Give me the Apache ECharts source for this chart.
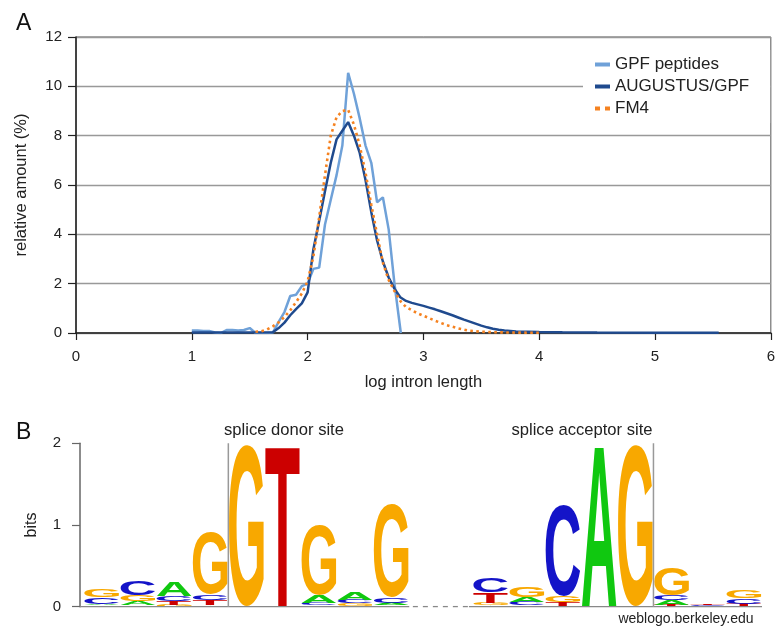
<!DOCTYPE html>
<html>
<head>
<meta charset="utf-8">
<script src="https://cdn.jsdelivr.net/npm/echarts@6/dist/echarts.min.js"></script>
<style>
html, body { margin: 0; padding: 0; background: #fff; }
#chart { width: 778px; height: 629px; }
</style>
</head>
<body>
<div id="chart"></div>
<script>
// ---- panel A: intron length distribution (x = log intron length, y = %) ----
const gpfX = [1.0, 1.05, 1.1, 1.15, 1.2, 1.25, 1.3, 1.35, 1.4, 1.45, 1.5, 1.55, 1.6, 1.65, 1.7, 1.75, 1.8, 1.85, 1.9, 1.95,
  2.0, 2.05, 2.1, 2.15, 2.2, 2.25, 2.3, 2.35, 2.4, 2.45, 2.5, 2.55, 2.6, 2.65, 2.7, 2.75, 2.805];
const gpfY = [0.1, 0.1, 0.08, 0.08, 0.02, 0.0, 0.12, 0.12, 0.1, 0.12, 0.2, 0.0, 0.0, 0.0, 0.02, 0.45, 0.85, 1.5, 1.55, 1.9,
  2.0, 2.6, 2.65, 4.4, 5.4, 6.4, 7.6, 10.55, 9.7, 8.7, 7.6, 6.9, 5.3, 5.5, 4.2, 2.0, 0.0];

const augX = [1.0, 1.7, 1.75, 1.8, 1.85, 1.9, 1.95, 2.0, 2.05, 2.1, 2.15, 2.2, 2.25, 2.3, 2.35, 2.4, 2.45, 2.5, 2.55, 2.6,
  2.65, 2.7, 2.75, 2.8, 2.85, 2.9, 2.95, 3.0, 3.05, 3.1, 3.15, 3.2, 3.25, 3.3, 3.35, 3.4, 3.45, 3.5, 3.55, 3.6,
  3.65, 3.7, 3.8, 3.9, 4.0, 4.2, 4.5, 5.0, 5.55];
const augY = [0.02, 0.03, 0.2, 0.42, 0.72, 0.97, 1.2, 1.65, 3.4, 4.55, 5.75, 6.9, 7.85, 8.2, 8.55, 8.0, 7.3, 6.2, 4.9, 3.75,
  2.9, 2.25, 1.8, 1.45, 1.3, 1.22, 1.16, 1.1, 1.03, 0.96, 0.88, 0.8, 0.72, 0.63, 0.54, 0.46, 0.38, 0.3, 0.23, 0.17,
  0.13, 0.1, 0.06, 0.05, 0.04, 0.03, 0.02, 0.015, 0.01];

const fm4X = [1.55, 1.6, 1.65, 1.7, 1.75, 1.8, 1.85, 1.9, 1.95, 2.0, 2.05, 2.1, 2.15, 2.2, 2.25, 2.3, 2.35, 2.4, 2.45, 2.5,
  2.55, 2.6, 2.65, 2.7, 2.75, 2.8, 2.85, 2.9, 2.95, 3.0, 3.1, 3.2, 3.3, 3.4, 3.5, 3.6, 3.8, 4.0];
const fm4Y = [0.05, 0.07, 0.14, 0.27, 0.43, 0.65, 0.92, 1.25, 1.6, 2.1, 3.1, 4.7, 6.4, 8.0, 8.75, 9.0, 9.05, 8.45, 7.6, 6.5,
  5.2, 4.0, 2.85, 2.15, 1.7, 1.3, 1.05, 0.92, 0.8, 0.7, 0.5, 0.32, 0.19, 0.09, 0.05, 0.03, 0.015, 0.01];

// ---- panel B: sequence logo, letters listed bottom -> top, height in bits ----
const donorSlots = [0, 1, 2, 3, 4, 5, 6, 7, 8];
const donorLogo = [
  [['T', 0.015], ['A', 0.02], ['C', 0.085], ['G', 0.095]],
  [['T', 0.015], ['A', 0.05], ['G', 0.08], ['C', 0.17]],
  [['G', 0.025], ['T', 0.045], ['C', 0.06], ['A', 0.175]],
  [['A', 0.02], ['T', 0.065], ['C', 0.07], ['G', 0.76]],
  [['G', 1.975]],
  [['T', 1.975]],
  [['T', 0.015], ['C', 0.035], ['A', 0.09], ['G', 0.86]],
  [['T', 0.01], ['G', 0.035], ['C', 0.04], ['A', 0.09]],
  [['T', 0.015], ['A', 0.03], ['C', 0.065], ['G', 1.15]]
];
const acceptorSlots = [10.75, 11.75, 12.75, 13.75, 14.75, 15.75, 16.75, 17.75];
const acceptorLogo = [
  [['A', 0.015], ['G', 0.035], ['T', 0.13], ['C', 0.18]],
  [['T', 0.015], ['C', 0.045], ['A', 0.06], ['G', 0.12]],
  [['A', 0.01], ['T', 0.045], ['G', 0.075], ['C', 1.11]],
  [['A', 1.975]],
  [['G', 1.975]],
  [['T', 0.025], ['A', 0.055], ['C', 0.06], ['G', 0.33]],
  [['G', 0.008], ['C', 0.015], ['T', 0.02]],
  [['A', 0.01], ['T', 0.025], ['C', 0.065], ['G', 0.1]]
];
const donorSplit = 3.5;
const acceptorSplit = 15.25;
const bitTicks = [0, 1, 2];

const letterColor = { A: '#10c810', C: '#1414c8', G: '#f8a800', T: '#cc0000' };
const FONT = '"Liberation Sans", Arial, sans-serif';
const LOGO_FONT = 'bold 100px "Liberation Sans", Arial, sans-serif';

// measure ink box of each glyph so it can be stretched to its bit height
const glyphBox = {};
const mctx = document.createElement('canvas').getContext('2d');
mctx.font = LOGO_FONT;
mctx.textAlign = 'center';
mctx.textBaseline = 'middle';
['A', 'C', 'G', 'T'].forEach(function (ch) {
  const m = mctx.measureText(ch);
  glyphBox[ch] = {
    left: m.actualBoundingBoxLeft,
    asc: m.actualBoundingBoxAscent,
    w: m.actualBoundingBoxLeft + m.actualBoundingBoxRight,
    h: m.actualBoundingBoxAscent + m.actualBoundingBoxDescent
  };
});

function zip(xs, ys) {
  return xs.map(function (x, i) { return [x, ys[i]]; });
}

function logoRenderer(stacks) {
  return function (params, api) {
    const slot = api.value(0);
    const col = stacks[api.value(2)];
    const children = [];
    let base = 0;
    col.forEach(function (item) {
      const letter = item[0], bits = item[1];
      const p0 = api.coord([slot - 0.48, base + bits]);
      const p1 = api.coord([slot + 0.48, base]);
      base += bits;
      const bw = p1[0] - p0[0];
      const bh = p1[1] - p0[1];
      if (bh < 0.3) return;
      const g = glyphBox[letter];
      const sx = bw / g.w, sy = bh / g.h;
      children.push({
        type: 'text',
        x: p0[0] + g.left * sx,
        y: p0[1] + g.asc * sy,
        scaleX: sx,
        scaleY: sy,
        style: {
          text: letter, font: LOGO_FONT, fill: letterColor[letter],
          align: 'center', verticalAlign: 'middle',
          textAlign: 'center', textVerticalAlign: 'middle'
        }
      });
    });
    return { type: 'group', children: children };
  };
}

const chart = echarts.init(document.getElementById('chart'), null, { renderer: 'canvas' });

const option = {
  backgroundColor: '#fff',
  animation: false,
  textStyle: { fontFamily: FONT },
  grid: [
    { left: 76, right: 3, top: 37, bottom: 296, show: true, borderColor: '#555', borderWidth: 1, backgroundColor: 'transparent' },
    { left: 80, right: 16, top: 443.3, bottom: 22.3 }
  ],
  legend: {
    orient: 'vertical',
    left: 583,
    top: 50,
    padding: [6, 21, 6, 12],
    backgroundColor: '#fff',
    itemWidth: 15,
    itemHeight: 4,
    itemGap: 5,
    itemStyle: { borderWidth: 0 },
    textStyle: { fontSize: 17, color: '#222', fontFamily: FONT, lineHeight: 17 },
    data: [
      { name: 'GPF peptides', icon: 'rect' },
      { name: 'AUGUSTUS/GPF', icon: 'rect' },
      { name: 'FM4', icon: 'path://M0,0h5v4h-5zM10,0h5v4h-5z' }
    ]
  },
  xAxis: [
    {
      gridIndex: 0, type: 'value', min: 0, max: 6, interval: 1,
      name: 'log intron length', nameLocation: 'middle', nameGap: 41,
      nameTextStyle: { fontSize: 16.5, color: '#222', fontFamily: FONT },
      axisLine: { onZero: false, lineStyle: { color: '#222', width: 1.5 } },
      axisTick: { show: true, length: 7, lineStyle: { color: '#222', width: 1.2 } },
      axisLabel: { fontSize: 15, color: '#222', margin: 16, fontFamily: FONT },
      splitLine: { show: false }
    },
    {
      gridIndex: 1, type: 'value', min: -0.6, max: 18.25, show: false,
      axisLine: { onZero: false }
    }
  ],
  yAxis: [
    {
      gridIndex: 0, type: 'value', min: 0, max: 12, interval: 2,
      name: 'relative amount (%)', nameLocation: 'middle', nameGap: 46,
      nameTextStyle: { fontSize: 16.5, color: '#222', fontFamily: FONT },
      axisLine: { show: true, onZero: false, lineStyle: { color: '#222', width: 1.5 } },
      axisTick: { show: true, length: 8, lineStyle: { color: '#222', width: 1.2 } },
      axisLabel: { fontSize: 15, color: '#222', margin: 14, fontFamily: FONT },
      splitLine: { show: true, lineStyle: { color: '#999', width: 1.4 } }
    },
    {
      gridIndex: 1, type: 'value', min: bitTicks[0], max: bitTicks[bitTicks.length - 1], interval: 1,
      name: 'bits', nameLocation: 'middle', nameGap: 40,
      nameTextStyle: { fontSize: 16, color: '#222', fontFamily: FONT },
      axisLine: { show: true, onZero: false, lineStyle: { color: '#666', width: 1.5 } },
      axisTick: { show: true, length: 8, lineStyle: { color: '#666', width: 1.2 } },
      axisLabel: { fontSize: 15, color: '#222', margin: 19, fontFamily: FONT },
      splitLine: { show: false }
    }
  ],
  graphic: [
    { type: 'text', x: 16, y: 24, style: { text: 'A', font: '23px ' + FONT, fill: '#111', align: 'left', verticalAlign: 'middle', textAlign: 'left', textVerticalAlign: 'middle' } },
    { type: 'text', x: 16, y: 433, style: { text: 'B', font: '23px ' + FONT, fill: '#111', align: 'left', verticalAlign: 'middle', textAlign: 'left', textVerticalAlign: 'middle' } },
    { type: 'text', x: 284, y: 430, style: { text: 'splice donor site', font: '16.6px ' + FONT, fill: '#222', align: 'center', verticalAlign: 'middle', textAlign: 'center', textVerticalAlign: 'middle' } },
    { type: 'text', x: 582, y: 430, style: { text: 'splice acceptor site', font: '16.6px ' + FONT, fill: '#222', align: 'center', verticalAlign: 'middle', textAlign: 'center', textVerticalAlign: 'middle' } },
    { type: 'text', x: 686, y: 619, style: { text: 'weblogo.berkeley.edu', font: '14px ' + FONT, fill: '#222', align: 'center', verticalAlign: 'middle', textAlign: 'center', textVerticalAlign: 'middle' } }
  ],
  series: [
    {
      name: 'GPF peptides', type: 'line', xAxisIndex: 0, yAxisIndex: 0,
      data: zip(gpfX, gpfY), showSymbol: false, symbol: 'none',
      lineStyle: { color: '#6fa1d8', width: 2.5 }, itemStyle: { color: '#6fa1d8' }
    },
    {
      name: 'AUGUSTUS/GPF', type: 'line', xAxisIndex: 0, yAxisIndex: 0,
      data: zip(augX, augY), showSymbol: false, symbol: 'none',
      lineStyle: { color: '#1f4a8e', width: 2.5 }, itemStyle: { color: '#1f4a8e' }
    },
    {
      name: 'FM4', type: 'line', xAxisIndex: 0, yAxisIndex: 0,
      data: zip(fm4X, fm4Y), showSymbol: false, symbol: 'none',
      lineStyle: { color: '#f58220', width: 2.6, type: [2.6, 3.4] }, itemStyle: { color: '#f58220' }
    },
    // logo baseline and site separators
    {
      name: 'baseDonor', type: 'line', xAxisIndex: 1, yAxisIndex: 1, symbol: 'none', silent: true,
      data: [[-0.6, 0], [8.5, 0]], lineStyle: { color: '#888', width: 1.5 }
    },
    {
      name: 'baseGap', type: 'line', xAxisIndex: 1, yAxisIndex: 1, symbol: 'none', silent: true,
      data: [[8.6, 0], [10.15, 0]], lineStyle: { color: '#888', width: 1.5, type: [5, 5] }
    },
    {
      name: 'baseAcceptor', type: 'line', xAxisIndex: 1, yAxisIndex: 1, symbol: 'none', silent: true,
      data: [[10.15, 0], [18.25, 0]], lineStyle: { color: '#888', width: 1.5 }
    },
    {
      name: 'donorLine', type: 'line', xAxisIndex: 1, yAxisIndex: 1, symbol: 'none', silent: true,
      data: [[donorSplit, 0], [donorSplit, 2]], lineStyle: { color: '#999', width: 1.5 }
    },
    {
      name: 'acceptorLine', type: 'line', xAxisIndex: 1, yAxisIndex: 1, symbol: 'none', silent: true,
      data: [[acceptorSplit, 0], [acceptorSplit, 2]], lineStyle: { color: '#999', width: 1.5 }
    },
    {
      name: 'donorLogo', type: 'custom', xAxisIndex: 1, yAxisIndex: 1, silent: true, z: 3,
      encode: { x: 0, y: 1 },
      data: donorSlots.map(function (s, i) { return [s, 0, i]; }),
      renderItem: logoRenderer(donorLogo)
    },
    {
      name: 'acceptorLogo', type: 'custom', xAxisIndex: 1, yAxisIndex: 1, silent: true, z: 3,
      encode: { x: 0, y: 1 },
      data: acceptorSlots.map(function (s, i) { return [s, 0, i]; }),
      renderItem: logoRenderer(acceptorLogo)
    }
  ]
};

chart.setOption(option);
window.onresize = function () { chart.resize(); };
</script>
</body>
</html>
